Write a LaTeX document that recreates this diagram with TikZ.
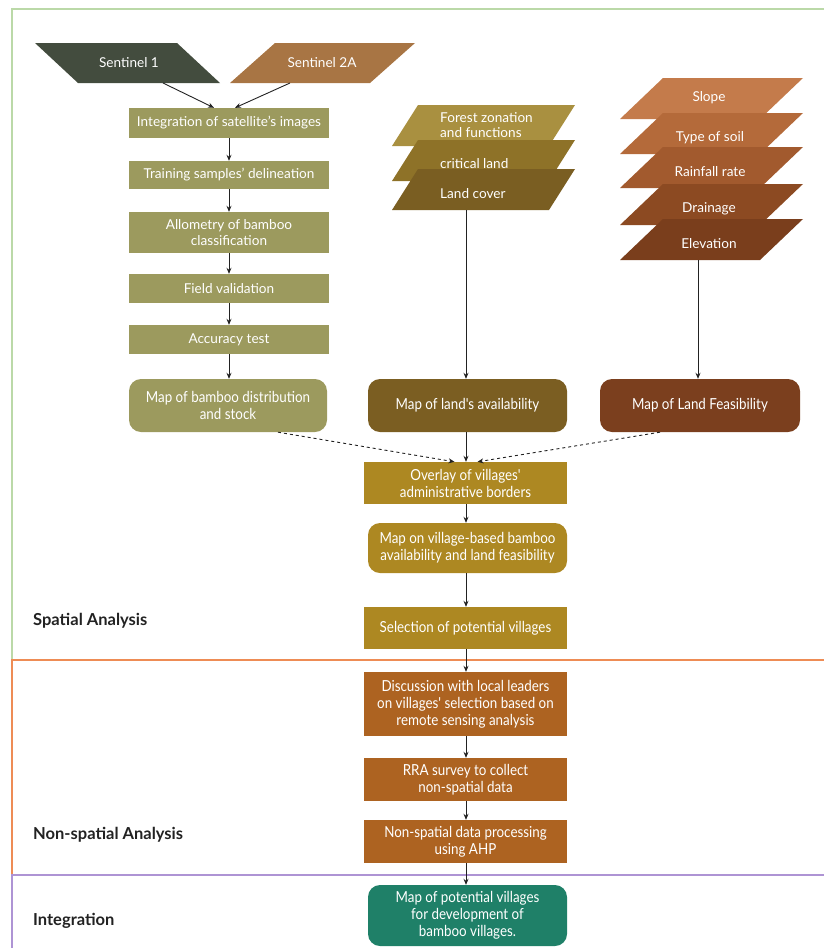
\documentclass[tikz,border=0pt]{standalone}
\usepackage{fontspec}
\setmainfont{Lato}
\newfontfamily\condfont[FakeStretch=0.88]{Lato}
\usetikzlibrary{arrows.meta,calc}

\definecolor{senA}{HTML}{434C3E}
\definecolor{senB}{HTML}{A87544}
\definecolor{olive}{HTML}{9C9A5E}
\definecolor{fz1}{HTML}{A99040}
\definecolor{fz2}{HTML}{8E7228}
\definecolor{fz3}{HTML}{7A5E22}
\definecolor{sl1}{HTML}{C47B4B}
\definecolor{sl2}{HTML}{B46A3A}
\definecolor{sl3}{HTML}{A25A2E}
\definecolor{sl4}{HTML}{8C4A22}
\definecolor{sl5}{HTML}{7A3E1C}
\definecolor{landav}{HTML}{7B5E22}
\definecolor{landfe}{HTML}{7B3F1E}
\definecolor{gold}{HTML}{AD8822}
\definecolor{rust}{HTML}{AD6321}
\definecolor{teal}{HTML}{1F8068}
\definecolor{frgreen}{HTML}{BBD9A8}
\definecolor{frorange}{HTML}{EE8C55}
\definecolor{frpurple}{HTML}{AE94D4}
\definecolor{ink}{HTML}{222222}

\tikzset{
  box/.style={rectangle, text=white, align=center, inner sep=0pt,
    font=\fontsize{13.6}{16}\selectfont},
  cbox/.style={box, font=\condfont\fontsize{15.2}{17}\selectfont},
  rbox/.style={cbox, rounded corners=12pt},
  lay/.style={text=white, align=center, inner sep=0pt,
    font=\fontsize{13.6}{15.5}\selectfont},
  flow/.style={draw=ink, line width=0.9pt, -{Stealth[length=6pt,width=5pt]}},
  dflow/.style={flow, dashed},
  sect/.style={anchor=west, inner sep=0pt, text=ink, font=\bfseries\fontsize{16.5}{19}\selectfont},
  frame/.style={line width=1.4pt}
}

\begin{document}
\begin{tikzpicture}[x=1pt,y=-1pt]
\useasboundingbox (0,0) rectangle (824,948);

% section frame lines
\draw[frame, frgreen] (824,9) -- (12,9) -- (12,660);
\draw[frame, frorange] (824,660) -- (12,660) -- (12,875);
\draw[frame, frpurple] (824,875) -- (12,875) -- (12,948);

% satellite sources
\fill[senA] (35,43) -- (177,43) -- (220,83) -- (78,83) -- cycle;
\node[lay] (s1) at (129,63) {Sentinel 1};
\fill[senB] (275,43) -- (415,43) -- (370,83) -- (230,83) -- cycle;
\node[lay] (s2) at (322,63) {Sentinel 2A};
\coordinate (s1b) at (163,83);
\coordinate (s2b) at (290,83);

% classification chain
\node[box, fill=olive, minimum width=200pt, minimum height=30pt] (int) at (229,123) {Integration of satellite's images};
\node[box, fill=olive, minimum width=200pt, minimum height=28pt] (train) at (229,175) {Training samples' delineation};
\node[box, fill=olive, minimum width=200pt, minimum height=41pt] (allo) at (229,232.5) {Allometry of bamboo\\classification};
\node[box, fill=olive, minimum width=200pt, minimum height=29pt] (field) at (229,288.5) {Field validation};
\node[box, fill=olive, minimum width=200pt, minimum height=29pt] (acc) at (229,339.5) {Accuracy test};
\node[rbox, fill=olive, minimum width=198pt, minimum height=53pt] (mapb) at (228,405.5) {Map of bamboo distribution\\and stock};

% land availability layers
\fill[fz1] (418,105) -- (575,105) -- (549,146) -- (392,146) -- cycle;
\fill[fz2] (418,140) -- (575,140) -- (549,181) -- (392,181) -- cycle;
\fill[fz3] (418,169) -- (575,169) -- (549,210) -- (392,210) -- cycle;
\node[lay, align=left, anchor=west] (fz) at (440,125) {Forest zonation\\and functions};
\node[lay, anchor=west] (cl) at (440,164) {critical land};
\node[lay, anchor=west] (lc) at (440,194) {Land cover};
\coordinate (lcb) at (466,210);
\node[rbox, fill=landav, minimum width=199pt, minimum height=53pt] (mapl) at (467.5,405.5) {Map of land's availability};

% land feasibility layers
\fill[sl1] (663,78)  -- (803,78)  -- (760,119) -- (620,119) -- cycle;
\fill[sl2] (663,113) -- (803,113) -- (760,154) -- (620,154) -- cycle;
\fill[sl3] (663,147) -- (803,147) -- (760,188) -- (620,188) -- cycle;
\fill[sl4] (663,184) -- (803,184) -- (760,225) -- (620,225) -- cycle;
\fill[sl5] (663,219) -- (803,219) -- (760,260) -- (620,260) -- cycle;
\node[lay] (slope) at (709,98) {Slope};
\node[lay] (soil) at (710,138) {Type of soil};
\node[lay] (rain) at (710,172) {Rainfall rate};
\node[lay] (drain) at (709,209) {Drainage};
\node[lay] (elev) at (709,244) {Elevation};
\coordinate (elb) at (698,260);
\node[rbox, fill=landfe, minimum width=200pt, minimum height=53pt] (mapf) at (700,405.5) {Map of Land Feasibility};

% integration column
\node[cbox, fill=gold, minimum width=203pt, minimum height=42pt] (over) at (465.5,483) {Overlay of villages'\\administrative borders};
\node[rbox, fill=gold, minimum width=199pt, minimum height=50pt] (mapv) at (467.5,548) {Map on village-based bamboo\\availability and land feasibility};
\node[cbox, fill=gold, minimum width=203pt, minimum height=42pt] (sel) at (465.5,628) {Selection of potential villages};
\node[cbox, fill=rust, minimum width=203pt, minimum height=64pt] (disc) at (465.5,704) {Discussion with local leaders\\on villages' selection based on\\remote sensing analysis};
\node[cbox, fill=rust, minimum width=203pt, minimum height=43pt] (rra) at (465.5,779.5) {RRA survey to collect\\non-spatial data};
\node[cbox, fill=rust, minimum width=203pt, minimum height=43pt] (nsp) at (465.5,841.5) {Non-spatial data processing\\using AHP};
\node[rbox, fill=teal, minimum width=199pt, minimum height=61pt] (fin) at (467.5,915.5) {Map of potential villages\\for development of\\bamboo villages.};

% section labels
\node[sect] (lab1) at (33,621) {Spatial Analysis};
\node[sect] (lab2) at (33,835) {Non-spatial Analysis};
\node[sect] (lab3) at (33,921) {Integration};

% connectors
\draw[flow] (s1b) -- ($(int.north)+(-15,0)$);
\draw[flow] (s2b) -- ($(int.north)+(6,0)$);
\draw[flow] (int) -- (train);
\draw[flow] (train) -- (allo);
\draw[flow] (allo) -- (field);
\draw[flow] (field) -- (acc);
\draw[flow] (acc) -- (acc|-mapb.north);
\draw[flow] (lcb) -- (lcb|-mapl.north);
\draw[flow] (elb) -- (elb|-mapf.north);
\draw[flow] (mapl.south-|lcb) -- (lcb|-over.north);
\draw[dflow] ($(mapb.south)+(50,0)$) -- ($(over.north)+(-11,0)$);
\draw[dflow] ($(mapf.south)+(-40,0)$) -- ($(over.north)+(12,0)$);
\draw[flow] (over.south-|lcb) -- (lcb|-mapv.north);
\draw[flow] (mapv.south-|lcb) -- (lcb|-sel.north);
\draw[flow] (sel.south-|lcb) -- (lcb|-disc.north);
\draw[flow] (disc.south-|lcb) -- (lcb|-rra.north);
\draw[flow] (rra.south-|lcb) -- (lcb|-nsp.north);
\draw[flow] (nsp.south-|lcb) -- (lcb|-fin.north);
\end{tikzpicture}
\end{document}
